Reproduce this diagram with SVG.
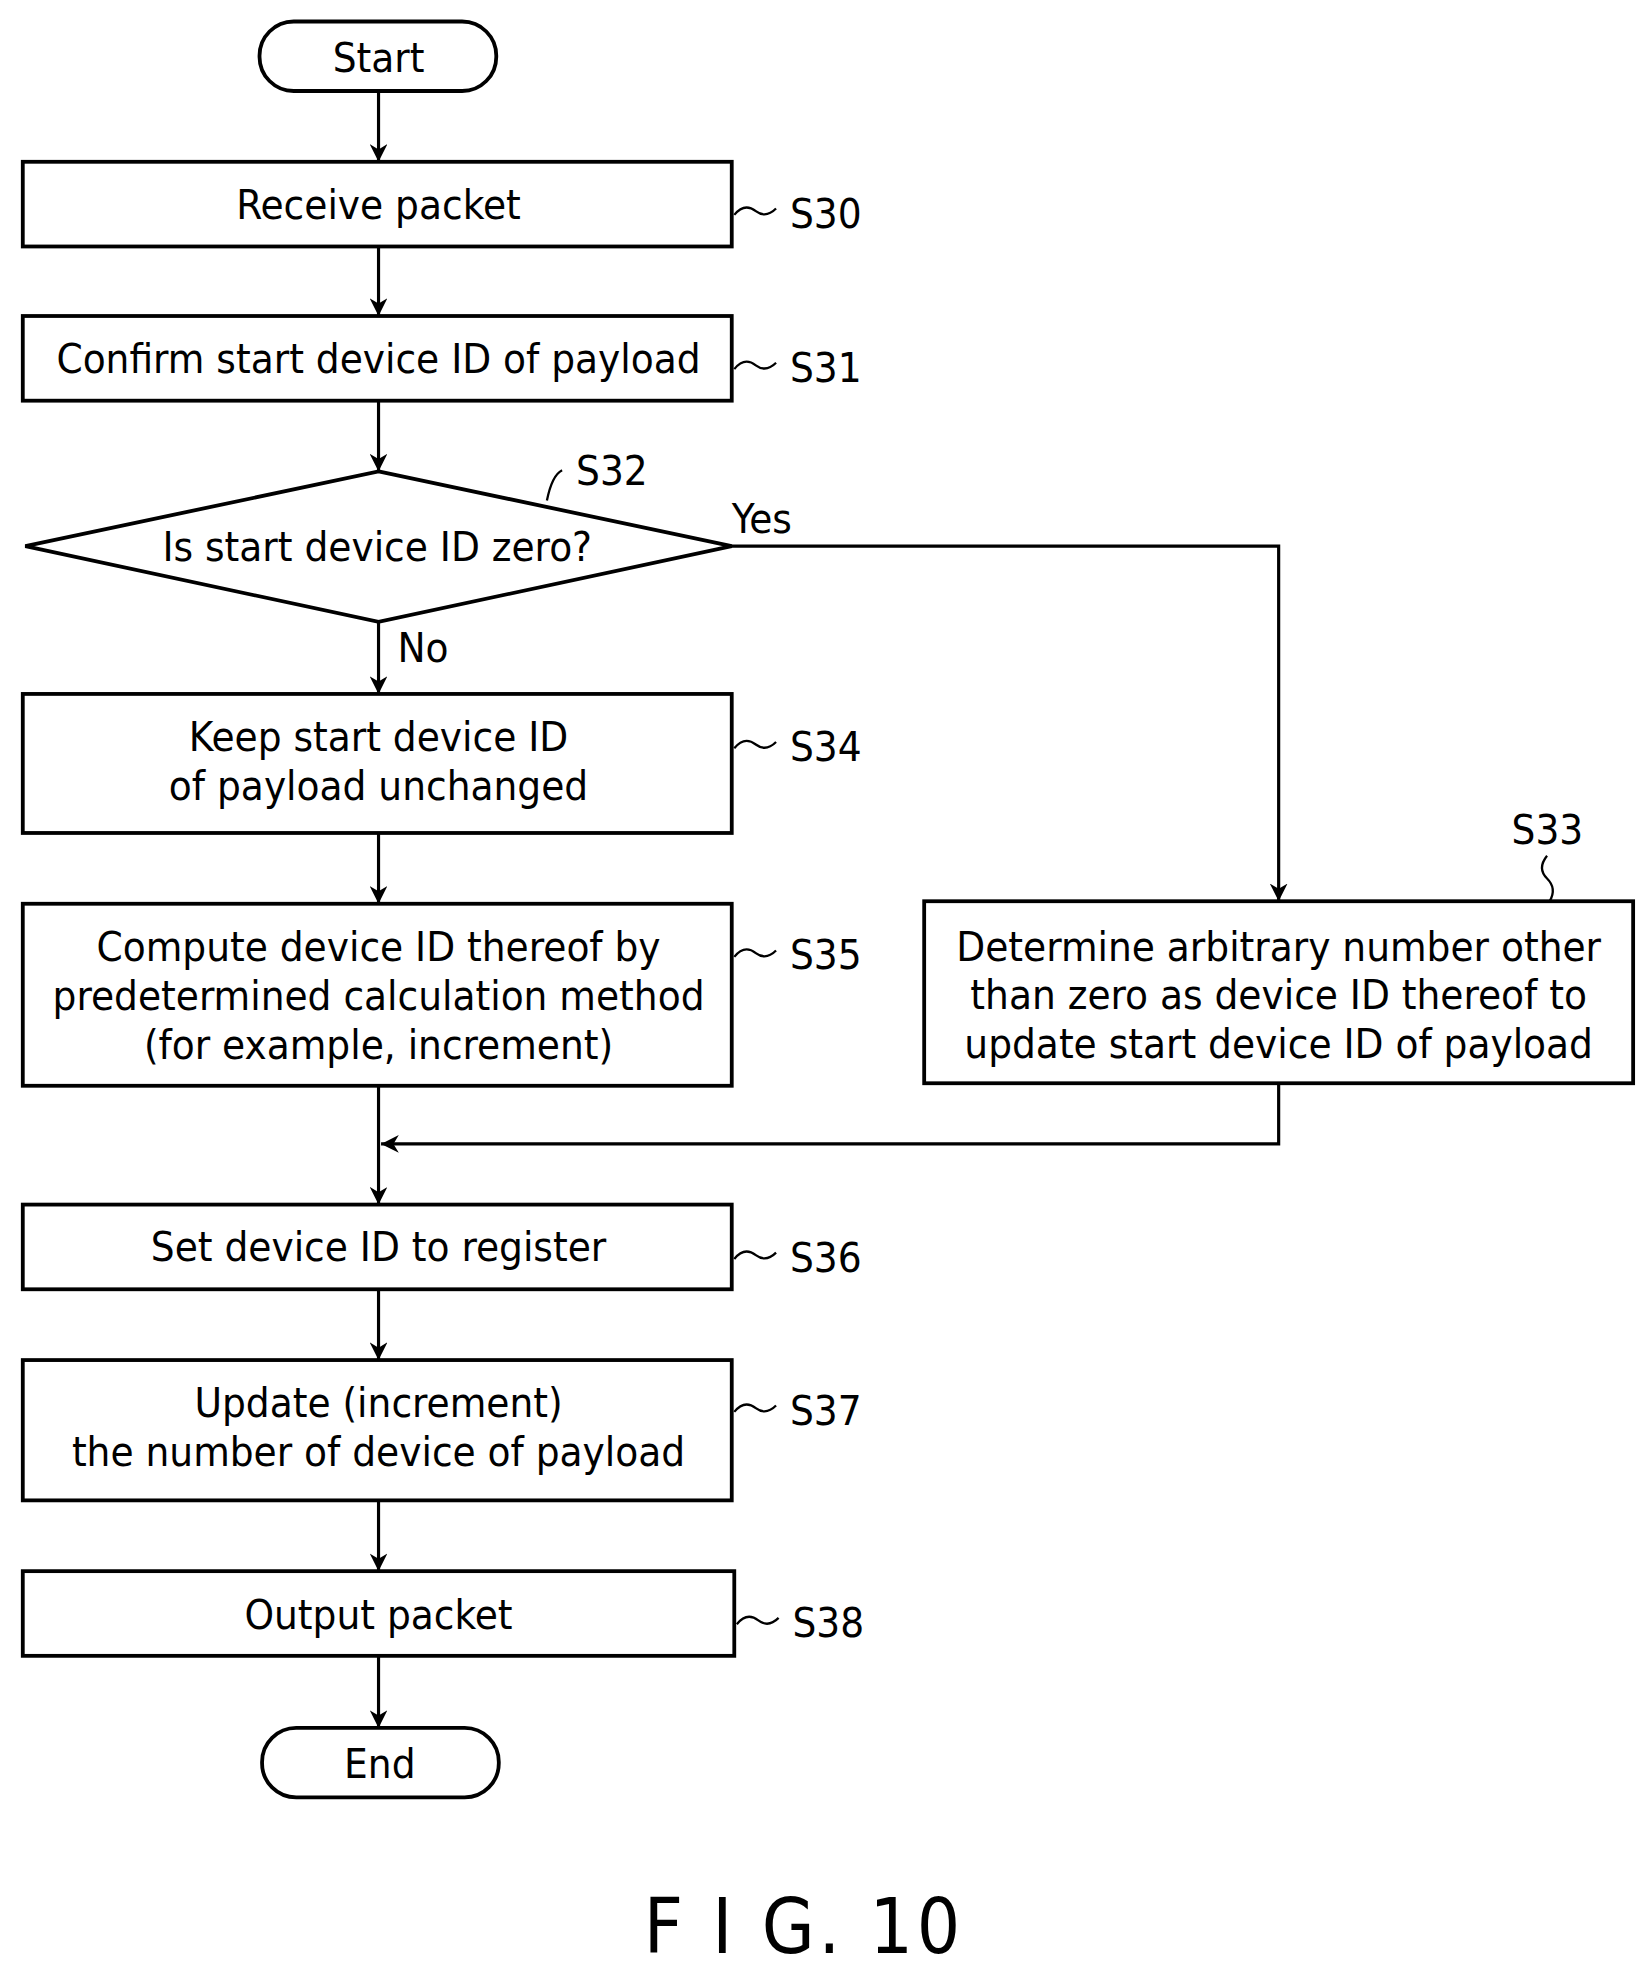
<svg xmlns="http://www.w3.org/2000/svg" width="1646" height="1972" viewBox="0 0 1646 1972">
<defs>
<marker id="ar" viewBox="0 0 10 10" refX="10" refY="5" markerWidth="14" markerHeight="14" markerUnits="userSpaceOnUse" orient="auto"><path d="M0,0 L10,5 L0,10 L3,5 Z" fill="#000"/></marker>
<style>
.b{fill:#fff;stroke:#000;stroke-width:3}
.t{font-family:"DejaVu Sans Condensed","DejaVu Sans",sans-serif;font-size:33px;text-anchor:middle;fill:#000}
.l{font-family:"DejaVu Sans Condensed","DejaVu Sans",sans-serif;font-size:33px;fill:#000}
.c{fill:none;stroke:#000;stroke-width:2.5}
.s{fill:none;stroke:#000;stroke-width:1.8}
</style>
</defs>
<rect width="1646" height="1972" fill="#fff"/>
<g transform="scale(1.266,1.264)">
<g id="connectors">
<path class="c" d="M299,72 V128" marker-end="url(#ar)"/>
<path class="c" d="M299,195 V250" marker-end="url(#ar)"/>
<path class="c" d="M299,317 V373" marker-end="url(#ar)"/>
<path class="c" d="M299,492 V549" marker-end="url(#ar)"/>
<path class="c" d="M578,432 H1010 V713" marker-end="url(#ar)"/>
<path class="c" d="M299,659 V715" marker-end="url(#ar)"/>
<path class="c" d="M299,859 V953" marker-end="url(#ar)"/>
<path class="c" d="M1010,857 V905 H301" marker-end="url(#ar)"/>
<path class="c" d="M299,1020 V1076" marker-end="url(#ar)"/>
<path class="c" d="M299,1187 V1243" marker-end="url(#ar)"/>
<path class="c" d="M299,1310 V1367" marker-end="url(#ar)"/>
<text class="l" x="578" y="422">Yes</text>
<text class="l" x="314" y="524">No</text>
</g>
<g id="start"><rect class="b" x="205" y="17" width="187" height="55" rx="27"/><text class="t" x="299" y="57">Start</text></g>
<g id="s30"><rect class="b" x="18" y="128" width="560" height="67"/><text class="t" x="299" y="173">Receive packet</text>
<path class="s" d="M580,170 q8,-10 17,-3 q8,6 16,-2"/><text class="l" x="624" y="180">S30</text></g>
<g id="s31"><rect class="b" x="18" y="250" width="560" height="67"/><text class="t" x="299" y="295">Confirm start device ID of payload</text>
<path class="s" d="M580,292 q8,-10 17,-3 q8,6 16,-2"/><text class="l" x="624" y="302">S31</text></g>
<g id="s32"><polygon class="b" points="299,373 578,432 299,492 20,432"/><text class="t" x="298" y="444">Is start device ID zero?</text>
<path class="s" d="M432,396 q4,-20 12,-24"/><text class="l" x="455" y="384">S32</text></g>
<g id="s34"><rect class="b" x="18" y="549" width="560" height="110"/><text class="t" x="299" y="594">Keep start device ID</text><text class="t" x="299" y="633">of payload unchanged</text>
<path class="s" d="M580,592 q8,-10 17,-3 q8,6 16,-2"/><text class="l" x="624" y="602">S34</text></g>
<g id="s35"><rect class="b" x="18" y="715" width="560" height="144"/><text class="t" x="299" y="760">Compute device ID thereof by</text><text class="t" x="299" y="799">predetermined calculation method</text><text class="t" x="299" y="838">(for example, increment)</text>
<path class="s" d="M580,757 q8,-10 17,-3 q8,6 16,-2"/><text class="l" x="624" y="767">S35</text></g>
<g id="s33"><rect class="b" x="730" y="713" width="560" height="144"/><text class="t" x="1010" y="760">Determine arbitrary number other</text><text class="t" x="1010" y="798">than zero as device ID thereof to</text><text class="t" x="1010" y="837">update start device ID of payload</text>
<path class="s" d="M1222,677 q-8,10 0,18 q8,8 2,18"/><text class="l" x="1194" y="668">S33</text></g>
<g id="s36"><rect class="b" x="18" y="953" width="560" height="67"/><text class="t" x="299" y="998">Set device ID to register</text>
<path class="s" d="M580,996 q8,-10 17,-3 q8,6 16,-2"/><text class="l" x="624" y="1006">S36</text></g>
<g id="s37"><rect class="b" x="18" y="1076" width="560" height="111"/><text class="t" x="299" y="1121">Update (increment)</text><text class="t" x="299" y="1160">the number of device of payload</text>
<path class="s" d="M580,1117 q8,-10 17,-3 q8,6 16,-2"/><text class="l" x="624" y="1127">S37</text></g>
<g id="s38"><rect class="b" x="18" y="1243" width="562" height="67"/><text class="t" x="299" y="1289">Output packet</text>
<path class="s" d="M582,1285 q8,-10 17,-3 q8,6 16,-2"/><text class="l" x="626" y="1295">S38</text></g>
<g id="end"><rect class="b" x="207" y="1367" width="187" height="55" rx="27"/><text class="t" x="300" y="1407">End</text></g>
<text x="635" y="1545" font-family="DejaVu Sans Condensed,DejaVu Sans,sans-serif" font-size="60" text-anchor="middle" letter-spacing="3">F I G. 10</text>
</g>
</svg>
